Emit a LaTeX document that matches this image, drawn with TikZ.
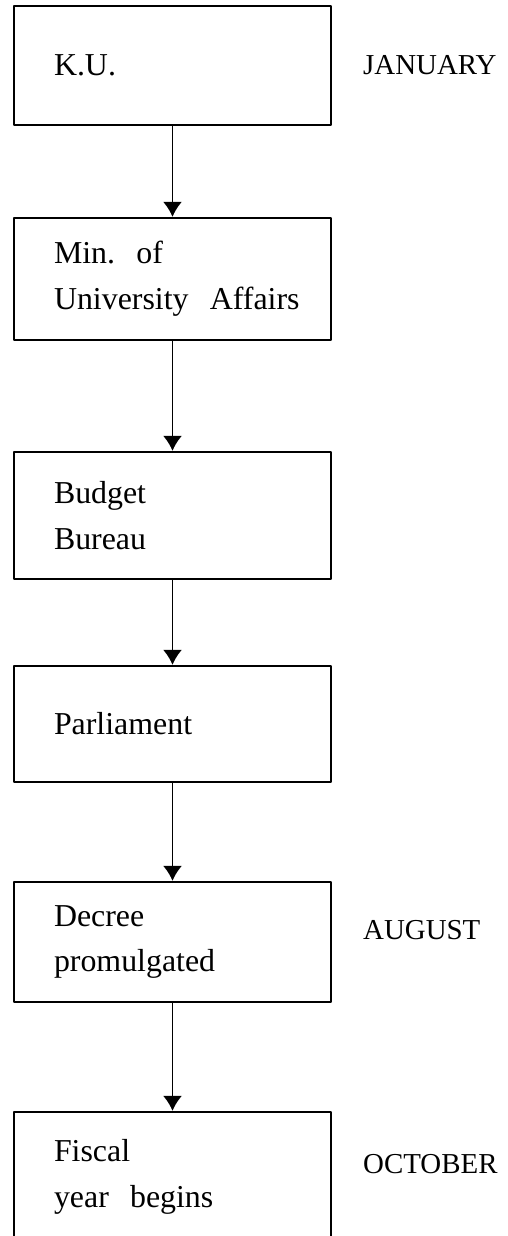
\documentclass[tikz,border=0pt]{standalone}
\usepackage{fontspec}
\setmainfont{Liberation Serif}
\usepackage{tikz}
\usetikzlibrary{arrows,arrows.meta,positioning}

\begin{document}
\begin{tikzpicture}[>={Latex[width=19bp,length=15bp]},line join=bevel,
  stage/.style={draw,line width=2.2bp,rectangle,inner xsep=40bp,inner ysep=0pt,
    text width=237bp,align=left,font=\fontsize{32}{46}\selectfont},
  month/.style={anchor=base west,inner sep=0pt,font=\fontsize{29}{34}\selectfont},
  flow/.style={->,line width=1.9bp},
]
\path[use as bounding box,clip] (0,0) rectangle (508bp,1236bp);
%%
\node (ku) at (172.5bp,1170.5bp) [stage,minimum height=119bp] {K.U.};
  \node (mua) at (172.5bp,957bp) [stage,minimum height=122bp] {Min.\ \ of\\\mbox{University\ \ Affairs}};
  \node (bb) at (172.5bp,720.5bp) [stage,minimum height=127bp] {Budget\\Bureau};
  \node (parl) at (172.5bp,512bp) [stage,minimum height=116bp] {Parliament};
  \node (decree) at (172.5bp,294bp) [stage,minimum height=120bp] {Decree\\promulgated};
  \node (fiscal) at (172.5bp,59bp) [stage,minimum height=130bp] {Fiscal\\year\ \ begins};
  \node (jan) at (363bp,1161bp) [month] {JANUARY};
  \node (aug) at (363bp,296bp) [month] {AUGUST};
  \node (oct) at (363bp,62bp) [month] {OCTOBER};
  \draw [flow] (ku) -- (mua);
  \draw [flow] (mua) -- (bb);
  \draw [flow] (bb) -- (parl);
  \draw [flow] (parl) -- (decree);
  \draw [flow] (decree) -- (fiscal);
%
\end{tikzpicture}
\end{document}
